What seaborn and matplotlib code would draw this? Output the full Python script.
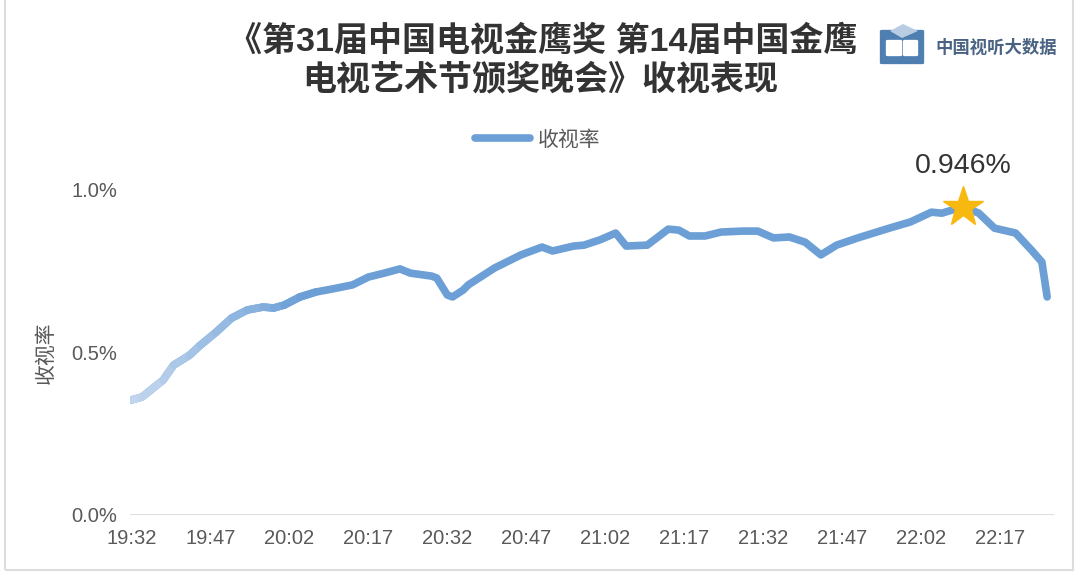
import numpy as np
import pandas as pd
import matplotlib.pyplot as plt
import seaborn as sns
from matplotlib.collections import LineCollection
from matplotlib.colors import to_rgb
from matplotlib.patches import FancyBboxPatch, Rectangle, Polygon

# --- DATA (minutes after 19:32, rating in %) ---
minutes = [0, 2, 6, 8, 11, 13, 16, 19, 22, 25, 27, 29, 32, 35, 38, 42, 45, 48, 51, 53,
           57, 58, 60, 61, 63, 64, 69, 74, 78, 80, 84, 86, 89, 92, 94, 98, 102, 104, 106,
           109, 112, 116, 119, 122, 125, 128, 131, 134, 138, 144, 148, 152, 154, 156,
           158, 161, 164, 168, 171, 173, 174]
ratings = [0.353, 0.362, 0.414, 0.460, 0.490, 0.520, 0.560, 0.604, 0.629, 0.638, 0.635,
           0.644, 0.669, 0.684, 0.693, 0.706, 0.730, 0.742, 0.755, 0.742, 0.733, 0.727,
           0.675, 0.669, 0.690, 0.706, 0.758, 0.798, 0.822, 0.810, 0.825, 0.828, 0.844,
           0.865, 0.825, 0.828, 0.877, 0.874, 0.856, 0.856, 0.868, 0.871, 0.871, 0.850,
           0.853, 0.837, 0.798, 0.828, 0.850, 0.880, 0.899, 0.929, 0.926, 0.936, 0.946,
           0.926, 0.880, 0.865, 0.813, 0.776, 0.669]
tick_minutes = [0, 15, 30, 45, 60, 75, 90, 105, 120, 135, 150, 165]
tick_labels = ['19:32', '19:47', '20:02', '20:17', '20:32', '20:47',
               '21:02', '21:17', '21:32', '21:47', '22:02', '22:17']
y_ticks = [0.0, 0.5, 1.0]
y_labels = ['0.0%', '0.5%', '1.0%']
peak_minute = 158
peak_value = 0.946

title_1 = '《第31届中国电视金鹰奖 第14届中国金鹰'
title_2 = '电视艺术节颁奖晚会》收视表现'

# --- STYLE ---
sns.set_theme(style='white')
plt.rcParams['font.family'] = ['Liberation Sans', 'Noto Sans CJK SC', 'DejaVu Sans']
line_color = '#6b9fd6'
light_color = '#c2d5ee'
text_gray = '#595959'

fig = plt.figure(figsize=(10.8, 5.77), dpi=100)
ax = fig.add_axes([130 / 1080, 1 - 515 / 577, (1054 - 130) / 1080, 0.6214])

df = pd.DataFrame({'minute': minutes, 'rating': ratings})
sns.lineplot(data=df, x='minute', y='rating', ax=ax, color=line_color, lw=5.5,
             solid_capstyle='round', solid_joinstyle='round', label='收视率', zorder=3)

# light-to-dark fade at the start of the curve
start = df[df['minute'] <= 35]
pts = start[['minute', 'rating']].to_numpy()
segs = np.stack([pts[:-1], pts[1:]], axis=1)
c0, c1 = np.array(to_rgb(light_color)), np.array(to_rgb(line_color))
frac = np.linspace(0, 1, len(segs))[:, None]
lc = LineCollection(segs, colors=c0 * (1 - frac) + c1 * frac, linewidths=5.5,
                    capstyle='round', joinstyle='round', zorder=4)
ax.add_collection(lc)

# peak marker
ax.plot(peak_minute, peak_value, marker='*', ms=30, color='#f7b80f', mec='#f7b80f', zorder=5)
ax.annotate(f'{peak_value:.3f}%', (peak_minute, peak_value), xytext=(0, 29),
            textcoords='offset points', ha='center', va='center', fontsize=20.5,
            color='#333333')

ax.axhline(0, color='#d9d9d9', lw=2, zorder=1)
ax.set_xlim(-0.3, 175.3)
ax.set_ylim(0, 1.1)
ax.set_xticks(tick_minutes)
ax.set_xticklabels(tick_labels)
ax.set_yticks(y_ticks)
ax.set_yticklabels(y_labels)
ax.tick_params(axis='both', length=0, labelsize=14.5, labelcolor=text_gray)
ax.tick_params(axis='x', pad=10)
ax.tick_params(axis='y', pad=9)
ax.set_xlabel('')
ax.set_ylabel('')
ax.grid(False)
for s in ax.spines.values():
    s.set_visible(False)

fig.text(46 / 1080, 1 - 353 / 577, '收视率', rotation=90, ha='center', va='center',
         fontsize=15, color=text_gray)

ax.legend(loc='center', bbox_to_anchor=(538 / 1080, 1 - 140 / 577),
          bbox_transform=fig.transFigure, frameon=False, fontsize=15,
          handlelength=2.6, handletextpad=0.4, labelcolor=text_gray)

# title
fig.text(543 / 1080, 1 - 42 / 577, title_1, ha='center', va='center', fontsize=24.5,
         fontweight='bold', color='#333333')
fig.text(540 / 1080, 1 - 80 / 577, title_2, ha='center', va='center', fontsize=24.5,
         fontweight='bold', color='#333333')

# logo
fig.add_artist(FancyBboxPatch((882 / 1080, 1 - 63 / 577), 40 / 1080, 32 / 577,
                              boxstyle='round,pad=0.002', transform=fig.transFigure,
                              fc='#4f7fb0', ec='none'))
fig.add_artist(Polygon([(890 / 1080, 1 - 31 / 577), (903 / 1080, 1 - 24 / 577),
                        (918 / 1080, 1 - 31 / 577), (902 / 1080, 1 - 38 / 577)],
                       closed=True, transform=fig.transFigure, fc='#b8cde3', ec='none'))
fig.add_artist(FancyBboxPatch((888 / 1080, 1 - 55 / 577), 12 / 1080, 14 / 577,
                              boxstyle='round,pad=0.002', transform=fig.transFigure,
                              fc='white', ec='none'))
fig.add_artist(FancyBboxPatch((905 / 1080, 1 - 55 / 577), 11 / 1080, 14 / 577,
                              boxstyle='round,pad=0.002', transform=fig.transFigure,
                              fc='white', ec='none'))
fig.text(935 / 1080, 1 - 47 / 577, '中国视听大数据', ha='left', va='center', fontsize=12.5,
         fontweight='bold', color='#4a6383')

# outer frame
fig.add_artist(Rectangle((5 / 1080, 1 - 570 / 577), (1073 - 5) / 1080, 0.995,
                         transform=fig.transFigure, fill=False, ec='#dcdcdc', lw=1.5))

fig.savefig('out.png', dpi=100)
